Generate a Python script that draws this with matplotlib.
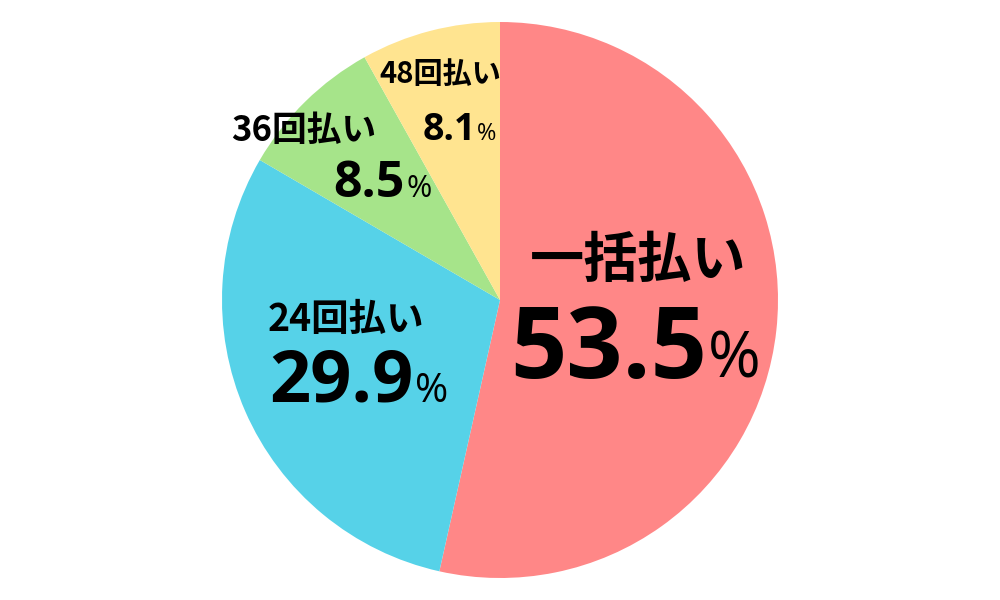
import matplotlib
matplotlib.use("Agg")
import matplotlib.pyplot as plt

plt.rcParams['font.family'] = ['Noto Sans CJK JP', 'DejaVu Sans']

labels = ["一括払い", "24回払い", "36回払い", "48回払い"]
shares = [53.5, 29.9, 8.5, 8.1]
colors = ["#FF8787", "#56D2E8", "#A6E48A", "#FFE490"]

# label layout (pixel coords, y from top): name centre, split x between number and %, baseline
name_pos = [(638, 262), (346, 320), (304, 130), (440, 74)]
num_pos = [(707, 378), (414, 402), (405, 197), (476, 140)]
name_size = [39, 27, 25, 21]
num_size = [71, 52, 36, 27]
pct_size = [46, 29, 22, 17]

fig = plt.figure(figsize=(10, 6), dpi=100)
ax = fig.add_axes([0, 0, 1, 1])

ax.pie(shares, colors=colors, startangle=90, counterclock=False,
       center=(500, 300), radius=278, frame=True,
       wedgeprops=dict(linewidth=0))
ax.set_xlim(0, 1000)
ax.set_ylim(0, 600)
ax.axis("off")

num_font = ['Open Sans', 'Noto Sans CJK JP']
for i, lab in enumerate(labels):
    nx, ny = name_pos[i]
    ax.text(nx, 600 - ny, lab, ha="center", va="center",
            fontsize=name_size[i], fontweight="bold", color="black")
    px, py = num_pos[i]
    ax.text(px, 600 - py, f"{shares[i]:.1f}", ha="right", va="baseline",
            fontsize=num_size[i], fontweight="bold", color="black",
            family=num_font)
    ax.text(px + 1, 600 - py, "%", ha="left", va="baseline",
            fontsize=pct_size[i], color="black", family=num_font)

fig.savefig("out.png", dpi=100, facecolor="white")
